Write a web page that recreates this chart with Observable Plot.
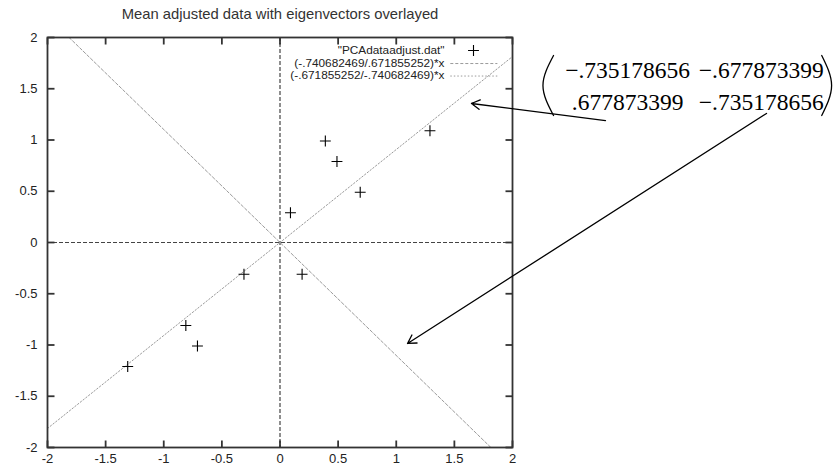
<!DOCTYPE html>
<html><head><meta charset="utf-8">
<script src="https://cdn.jsdelivr.net/npm/d3@7"></script>
<script src="https://cdn.jsdelivr.net/npm/@observablehq/plot@0.6"></script>
<style>body{margin:0;background:#fff} svg{display:block}</style>
</head><body><div id="chart"></div>
<script>
// ---- data ----
const title = "Mean adjusted data with eigenvectors overlayed";
const xs = [0.69, -1.31, 0.39, 0.09, 1.29, 0.49, 0.19, -0.81, -0.31, -0.71];
const ys = [0.49, -1.21, 0.99, 0.29, 1.09, 0.79, -0.31, -0.81, -0.31, -1.01];
const slopeNum = [-0.740682469, -0.671855252];
const slopeDen = [0.671855252, -0.740682469];
const legendLabels = ['"PCAdataadjust.dat"', '(-.740682469/.671855252)*x', '(-.671855252/-.740682469)*x'];
const ticks = [-2, -1.5, -1, -0.5, 0, 0.5, 1, 1.5, 2];
const matrixCells = ["\u2212.735178656", "\u2212.677873399", ".677873399", "\u2212.735178656"];
// annotation placement (data units)
const matrixColX = [2.99, 4.14];
const matrixRowY = [1.678, 1.366];
const leftParen = [[2.353, 1.824], [2.262, 1.532], [2.353, 1.239]];
const rightParen = [[4.66, 1.824], [4.745, 1.532], [4.66, 1.239]];
const arrows = [
  {x1: 2.80, y1: 1.19, x2: 1.647, y2: 1.356},
  {x1: 4.185, y1: 1.259, x2: 1.097, y2: -0.985}
];
const legendSampleX = [1.465, 1.87];
const legendSampleY = [1.746, 1.624];

// ---- derived tables ----
const points = xs.map((x, i) => ({x, y: ys[i]}));
const lines = slopeNum.map((n, k) => {
  const m = n / slopeDen[k];
  return [{x: -2, y: -2 * m}, {x: 2, y: 2 * m}];
});
const cells = matrixCells.map((t, i) => ({t, x: matrixColX[i % 2], y: matrixRowY[Math.floor(i / 2)]}));
const parens = [...leftParen.map(([x, y]) => ({x, y, s: "L"})), ...rightParen.map(([x, y]) => ({x, y, s: "R"}))];
const fmt = d => String(d);
const lineStyles = [{stroke: "#9a9a9a", dash: "3,2"}, {stroke: "#9a9a9a", dash: "1.5,2"}];

// frame geometry
const W = 834, H = 466, mL = 47, mR = 322, mT = 37, mB = 19, TICK = 7;
const fw = W - mL - mR, fh = H - mT - mB;
const tx = TICK * 4 / fw, ty = TICK * 4 / fh; // tick length in data units
const tickSegs = [
  ...ticks.map(t => ({x1: t, x2: t, y1: -2, y2: -2 + ty})),
  ...ticks.map(t => ({x1: t, x2: t, y1: 2, y2: 2 - ty})),
  ...ticks.map(t => ({x1: -2, x2: -2 + tx, y1: t, y2: t})),
  ...ticks.map(t => ({x1: 2, x2: 2 - tx, y1: t, y2: t}))
];

const chart = Plot.plot({
  width: W, height: H,
  marginLeft: mL, marginRight: mR, marginTop: mT, marginBottom: mB,
  style: {fontFamily: "'Liberation Sans', Arial, sans-serif", fontSize: "12px", background: "#fff", overflow: "visible"},
  x: {domain: [-2, 2], label: null},
  y: {domain: [-2, 2], label: null},
  marks: [
    // zero axes
    Plot.ruleY([0], {stroke: "#444", strokeWidth: 1.2, strokeDasharray: "4,2"}),
    Plot.ruleX([0], {stroke: "#444", strokeWidth: 1.2, strokeDasharray: "4,2"}),
    // eigenvector lines
    ...lines.map((l, k) => Plot.line(l, {x: "x", y: "y", clip: true, stroke: lineStyles[k].stroke, strokeWidth: 1, strokeDasharray: lineStyles[k].dash})),
    // data points
    Plot.dot(points, {x: "x", y: "y", symbol: "plus", r: 3.6, stroke: "#000", strokeWidth: 1.1}),
    // inward ticks on all four sides
    Plot.link(tickSegs, {x1: "x1", x2: "x2", y1: "y1", y2: "y2", stroke: "#333", strokeWidth: 1.8}),
    Plot.frame({stroke: "#333", strokeWidth: 1.8}),
    Plot.axisX(ticks, {anchor: "bottom", tickSize: 0, tickPadding: 6, tickFormat: fmt, fontSize: 13, fill: "#222"}),
    Plot.axisY(ticks, {anchor: "left", tickSize: 0, tickPadding: 10, tickFormat: fmt, fontSize: 13, fill: "#222"}),
    // title
    Plot.text([title], {text: d => d, frameAnchor: "top", dy: -23, lineAnchor: "middle", fontSize: 14.8, fill: "#333"}),
    // legend
    ...legendLabels.map((lab, i) => Plot.text([lab], {text: d => d, frameAnchor: "top-right", dx: -68, dy: 13 + 12.5 * i, lineAnchor: "middle", textAnchor: "end", fontSize: 11.8, fill: "#222"})),
    Plot.dot([0], {frameAnchor: "top-right", dx: -39, dy: 13, symbol: "plus", r: 3.6, stroke: "#000", strokeWidth: 1.1}),
    ...legendSampleY.map((y, k) => Plot.link([0], {x1: legendSampleX[0], x2: legendSampleX[1], y1: y, y2: y, stroke: lineStyles[k].stroke, strokeDasharray: lineStyles[k].dash, strokeWidth: 1})),
    // matrix annotation
    Plot.text(cells, {x: "x", y: "y", text: "t", fontFamily: "'Liberation Serif', 'DejaVu Serif', serif", fontSize: 23.5, fill: "#000", lineAnchor: "middle", clip: false}),
    Plot.line(parens, {x: "x", y: "y", z: "s", curve: "natural", stroke: "#000", strokeWidth: 1.3, clip: false}),
    Plot.arrow(arrows, {x1: "x1", y1: "y1", x2: "x2", y2: "y2", stroke: "#000", strokeWidth: 1.3, headLength: 11, clip: false})
  ]
});
document.getElementById("chart").append(chart);
</script>
</body></html>
